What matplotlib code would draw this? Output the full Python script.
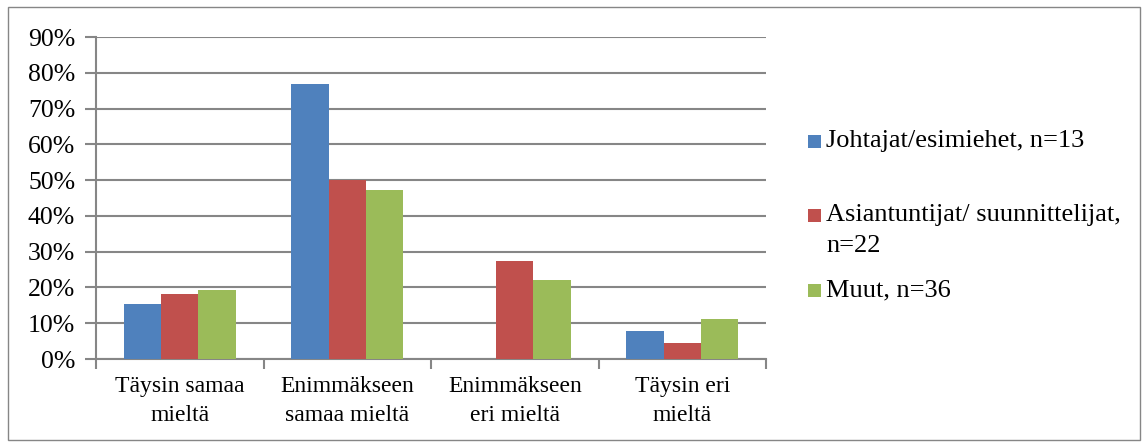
import numpy as np
import matplotlib
matplotlib.use("Agg")
import matplotlib.pyplot as plt
from matplotlib.patches import Rectangle

plt.rcParams['font.family'] = ['Liberation Serif', 'DejaVu Serif']

categories = ["Täysin samaa\nmieltä", "Enimmäkseen\nsamaa mieltä",
              "Enimmäkseen\neri mieltä", "Täysin eri\nmieltä"]
series_names = ["Johtajat/esimiehet, n=13",
                "Asiantuntijat/ suunnittelijat,\nn=22",
                "Muut, n=36"]
johtajat = [15.4, 76.9, 0.0, 7.7]
asiantuntijat = [18.2, 50.0, 27.3, 4.5]
muut = [19.4, 47.2, 22.2, 11.1]
yticks = [0, 10, 20, 30, 40, 50, 60, 70, 80, 90]
colors = ["#4F81BD", "#C0504D", "#9BBB59"]

W, H = 1145, 447
fig = plt.figure(figsize=(W / 100, H / 100), dpi=100)
fig.patch.set_facecolor("white")

# outer chart border
fig.patches.append(Rectangle((8 / W, 7 / H), (1140 - 8) / W, (440 - 7) / H,
                             transform=fig.transFigure, fill=False,
                             edgecolor="#868686", linewidth=1.0))

ax = fig.add_axes([96 / W, (H - 359) / H, (766 - 96) / W, (359 - 37) / H])

grid_col = "#868686"
x = np.arange(len(categories))
bw = 1 / 4.5
data = [johtajat, asiantuntijat, muut]
for i, (vals, c) in enumerate(zip(data, colors)):
    ax.bar(x + (i - 1) * bw, vals, width=bw, color=c, zorder=3)

ax.set_xlim(-0.5, len(categories) - 0.5)
ax.set_ylim(0, 90)
ax.set_yticks(yticks)
ax.set_yticklabels([f"{v}%" for v in yticks], fontsize=18.5)
ax.yaxis.grid(True, color=grid_col, linewidth=1.5, zorder=0)
ax.set_axisbelow(True)

# category labels centred, tick marks at category boundaries
ax.set_xticks(x)
ax.set_xticklabels(categories, fontsize=17, linespacing=1.5)
ax.tick_params(axis="x", length=0, pad=12)
ax.set_xticks(np.arange(-0.5, len(categories)), minor=True)
ax.tick_params(axis="x", which="minor", length=7, width=1.5, color=grid_col)
ax.tick_params(axis="y", length=8, width=1.5, color=grid_col, pad=7)

for s in ["top", "right"]:
    ax.spines[s].set_visible(False)
for s in ["left", "bottom"]:
    ax.spines[s].set_color(grid_col)
    ax.spines[s].set_linewidth(1.5)

# legend entries: colour square beside the first line of each label
legend_y = [141, 215, 290]
sq = 13
for name, c, yy in zip(series_names, colors, legend_y):
    fig.patches.append(Rectangle((808 / W, (H - yy - sq / 2) / H), sq / W, sq / H,
                                 transform=fig.transFigure, facecolor=c,
                                 edgecolor="none"))
    for k, line in enumerate(name.split("\n")):
        fig.text(826 / W, (H - yy - k * 31) / H, line, fontsize=19,
                 va="center", ha="left", transform=fig.transFigure)

fig.savefig("out.png", dpi=100)
